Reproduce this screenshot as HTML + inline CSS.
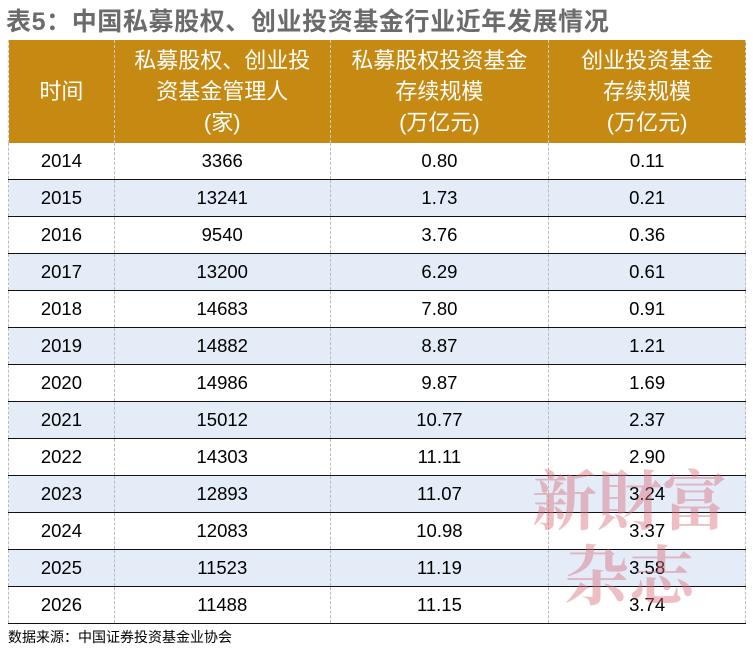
<!DOCTYPE html>
<html><head><meta charset="utf-8"><style>
body{margin:0;width:753px;height:651px;background:#fff;position:relative;overflow:hidden;font-family:"Liberation Sans","Noto Sans CJK SC",sans-serif}
.t{position:absolute;left:6px;top:2px;font-size:25px;font-weight:bold;color:#6b6b6b;letter-spacing:0.6px}
table{position:absolute;left:8px;top:40px;border-collapse:collapse;width:738px}
td{text-align:center;font-size:18.5px;color:#000;height:36px;padding:0;border-left:1px dashed #bbb;border-right:1px dashed #bbb;border-bottom:1.5px solid #111}
th{background:#C68A12;color:#fff;font-weight:normal;font-size:22px;line-height:31px;height:103px;padding:0;border-left:1px dashed #ccc;border-right:1px dashed #ccc}
tr.b td{background:#E3ECF7}
.f{position:absolute;left:8px;top:627px;font-size:14px;color:#000}
.w{position:absolute;font-family:"Noto Serif CJK SC",serif;font-weight:bold;color:rgba(220,110,125,0.45);font-size:65px;line-height:1}
</style></head><body>
<div class="t">表5：中国私募股权、创业投资基金行业近年发展情况</div>
<table>
<colgroup><col style="width:106px"><col style="width:216px"><col style="width:219px"><col style="width:197px"></colgroup>
<tr><th>时间</th><th>私募股权、创业投<br>资基金管理人<br>(家)</th><th>私募股权投资基金<br>存续规模<br>(万亿元)</th><th>创业投资基金<br>存续规模<br>(万亿元)</th></tr>
<tr><td>2014</td><td>3366</td><td>0.80</td><td>0.11</td></tr>
<tr class="b"><td>2015</td><td>13241</td><td>1.73</td><td>0.21</td></tr>
<tr><td>2016</td><td>9540</td><td>3.76</td><td>0.36</td></tr>
<tr class="b"><td>2017</td><td>13200</td><td>6.29</td><td>0.61</td></tr>
<tr><td>2018</td><td>14683</td><td>7.80</td><td>0.91</td></tr>
<tr class="b"><td>2019</td><td>14882</td><td>8.87</td><td>1.21</td></tr>
<tr><td>2020</td><td>14986</td><td>9.87</td><td>1.69</td></tr>
<tr class="b"><td>2021</td><td>15012</td><td>10.77</td><td>2.37</td></tr>
<tr><td>2022</td><td>14303</td><td>11.11</td><td>2.90</td></tr>
<tr class="b"><td>2023</td><td>12893</td><td>11.07</td><td>3.24</td></tr>
<tr><td>2024</td><td>12083</td><td>10.98</td><td>3.37</td></tr>
<tr class="b"><td>2025</td><td>11523</td><td>11.19</td><td>3.58</td></tr>
<tr><td>2026</td><td>11488</td><td>11.15</td><td>3.74</td></tr>
</table>
<div class="w" style="left:532px;top:464px">新財富</div>
<div class="w" style="left:564px;top:539px">杂志</div>
<div class="f">数据来源：中国证券投资基金业协会</div>
</body></html>
